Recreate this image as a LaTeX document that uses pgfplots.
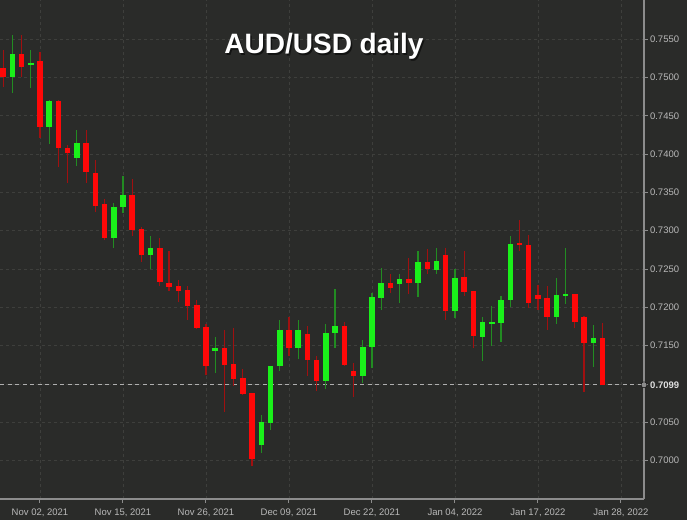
\documentclass[border=0pt]{standalone}
\usepackage{fontspec}
\setmainfont{Liberation Sans}
\usepackage{pgfplots}
\usepackage{pgfplotstable}
\pgfplotsset{compat=1.18}
\definecolor{bgcol}{RGB}{42,43,41}
\definecolor{gridcol}{RGB}{62,63,60}
\definecolor{axiscol}{RGB}{140,140,140}
\definecolor{labcol}{RGB}{185,185,185}
\definecolor{upbody}{RGB}{26,240,26}
\definecolor{upwick}{RGB}{34,140,34}
\definecolor{dnbody}{RGB}{255,8,8}
\definecolor{dnwick}{RGB}{160,16,16}
\definecolor{pricecol}{RGB}{175,175,175}

% x = trading day index (0 = Nov 02, 2021), o h l c
\pgfplotstableread{
x o h l c
-3 0.7500 0.7555 0.7480 0.7531
-1 0.7516 0.7536 0.7486 0.7519
1 0.7435 0.7470 0.7413 0.7469
4 0.7395 0.7431 0.7385 0.7415
8 0.7290 0.7336 0.7277 0.7331
9 0.7331 0.7371 0.7323 0.7347
12 0.7268 0.7293 0.7250 0.7277
19 0.7143 0.7161 0.7115 0.7147
24 0.7020 0.7060 0.7010 0.7050
25 0.7049 0.7124 0.7040 0.7123
26 0.7123 0.7183 0.7117 0.7170
28 0.7147 0.7183 0.7133 0.7171
31 0.7104 0.7178 0.7093 0.7167
32 0.7167 0.7224 0.7147 0.7176
35 0.7110 0.7158 0.7101 0.7149
36 0.7148 0.7219 0.7121 0.7213
37 0.7212 0.7251 0.7197 0.7232
39 0.7230 0.7244 0.7206 0.7237
41 0.7232 0.7273 0.7213 0.7259
43 0.7249 0.7277 0.7244 0.7260
45 0.7196 0.7250 0.7186 0.7239
48 0.7162 0.7188 0.7130 0.7181
49 0.7179 0.7202 0.7150 0.7181
50 0.7180 0.7215 0.7155 0.7210
51 0.7210 0.7293 0.7201 0.7283
56 0.7187 0.7239 0.7178 0.7216
57 0.7215 0.7277 0.7205 0.7217
60 0.7154 0.7177 0.7122 0.7160
}\upcandles

\pgfplotstableread{
x o h l c
-4 0.7513 0.7536 0.7487 0.7500
-2 0.7531 0.7555 0.7500 0.7514
0 0.7521 0.7533 0.7421 0.7435
2 0.7469 0.7470 0.7383 0.7408
3 0.7408 0.7412 0.7362 0.7402
5 0.7415 0.7432 0.7362 0.7376
6 0.7376 0.7393 0.7325 0.7333
7 0.7335 0.7341 0.7288 0.7290
10 0.7346 0.7367 0.7293 0.7301
11 0.7302 0.7305 0.7259 0.7268
13 0.7277 0.7291 0.7228 0.7233
14 0.7232 0.7273 0.7221 0.7227
15 0.7228 0.7236 0.7207 0.7222
16 0.7223 0.7228 0.7184 0.7202
17 0.7203 0.7210 0.7172 0.7173
18 0.7174 0.7178 0.7112 0.7123
20 0.7147 0.7171 0.7063 0.7125
21 0.7126 0.7173 0.7097 0.7107
22 0.7108 0.7120 0.7086 0.7087
23 0.7088 0.7089 0.6993 0.7002
27 0.7170 0.7187 0.7137 0.7147
29 0.7166 0.7176 0.7111 0.7131
30 0.7131 0.7136 0.7091 0.7104
33 0.7176 0.7181 0.7124 0.7125
34 0.7117 0.7127 0.7083 0.7110
38 0.7232 0.7244 0.7219 0.7225
40 0.7237 0.7264 0.7218 0.7232
42 0.7259 0.7276 0.7244 0.7250
44 0.7268 0.7277 0.7184 0.7196
46 0.7239 0.7273 0.7215 0.7220
47 0.7221 0.7221 0.7147 0.7163
52 0.7284 0.7314 0.7274 0.7281
53 0.7282 0.7294 0.7199 0.7206
54 0.7216 0.7229 0.7197 0.7211
55 0.7212 0.7228 0.7170 0.7187
58 0.7217 0.7218 0.7173 0.7181
59 0.7188 0.7189 0.7090 0.7154
61 0.7160 0.7180 0.7099 0.7099
}\dncandles

\begin{document}
\begin{tikzpicture}[x=1pt,y=1pt]
\fill[bgcol] (0,0) rectangle (687,520);
\begin{axis}[
  at={(0pt,21pt)}, anchor=south west,
  width=644pt, height=499pt, scale only axis,
  xmin=-4.337, xmax=65.5,
  ymin=0.6950, ymax=0.7601,
  axis x line*=bottom, axis y line*=right,
  axis line style={draw=axiscol, line width=1.3pt, -},
  tick align=outside, major tick length=3.5pt,
  tick style={draw=axiscol, line width=1pt},
  xtick={0,9,18,27,36,45,54,63},
  xticklabels={{Nov 02, 2021},{Nov 15, 2021},{Nov 26, 2021},{Dec 09, 2021},{Dec 22, 2021},{Jan 04, 2022},{Jan 17, 2022},{Jan 28, 2022}},
  ytick={0.7000,0.7050,0.7100,0.7150,0.7200,0.7250,0.7300,0.7350,0.7400,0.7450,0.7500,0.7550},
  yticklabels={0.7000,0.7050,,0.7150,0.7200,0.7250,0.7300,0.7350,0.7400,0.7450,0.7500,0.7550},
  xticklabel style={font=\fontsize{9.5}{10}\selectfont, text=labcol, yshift=-2.5pt},
  yticklabel style={font=\fontsize{9.5}{10}\selectfont, text=labcol, xshift=-1pt},
  grid=major,
  major grid style={draw=gridcol, dash pattern=on 3pt off 3pt, line width=0.7pt},
  clip=true,
  every axis plot/.append style={mark=none},
]
% current price line
\addplot[draw=pricecol, line width=0.9pt, dash pattern=on 4pt off 3.5pt, forget plot] coordinates {(-4.337,0.7099) (65.5,0.7099)};
% wicks
\addplot[draw=none, mark=none, forget plot,
  error bars/.cd, y dir=both, y explicit, error mark=none,
  error bar style={solid, draw=upwick, line width=1.2pt}]
  table[x=x, y expr={(\thisrow{h}+\thisrow{l})/2}, y error expr={(\thisrow{h}-\thisrow{l})/2}] {\upcandles};
\addplot[draw=none, mark=none, forget plot,
  error bars/.cd, y dir=both, y explicit, error mark=none,
  error bar style={solid, draw=dnwick, line width=1.2pt}]
  table[x=x, y expr={(\thisrow{h}+\thisrow{l})/2}, y error expr={(\thisrow{h}-\thisrow{l})/2}] {\dncandles};
% bodies
\addplot[draw=none, mark=none, forget plot,
  error bars/.cd, y dir=both, y explicit, error mark=none,
  error bar style={solid, draw=upbody, line width=5.5pt}]
  table[x=x, y expr={(\thisrow{o}+\thisrow{c})/2}, y error expr={abs(\thisrow{c}-\thisrow{o})/2}] {\upcandles};
\addplot[draw=none, mark=none, forget plot,
  error bars/.cd, y dir=both, y explicit, error mark=none,
  error bar style={solid, draw=dnbody, line width=5.5pt}]
  table[x=x, y expr={(\thisrow{o}+\thisrow{c})/2}, y error expr={abs(\thisrow{c}-\thisrow{o})/2}] {\dncandles};
\end{axis}
\begin{axis}[
  at={(0pt,21pt)}, anchor=south west,
  width=644pt, height=499pt, scale only axis,
  xmin=-4.337, xmax=65.5, ymin=0.6950, ymax=0.7601,
  hide axis, clip=false,
]
\addplot[only marks, mark=*, mark size=3pt, mark options={fill=axiscol, draw=none}] coordinates {(65.5,0.7099)};
\node[anchor=west, text=white!88!black, font=\fontsize{9.5}{10}\selectfont\bfseries, inner sep=0pt] at (axis cs:65.5,0.7099) {\hspace{6pt}0.7099};
\end{axis}
\node[anchor=base, font=\fontsize{28}{30}\selectfont\bfseries, text=black, opacity=0.55] at (325.5,464.5) {AUD/USD daily};
\node[anchor=base, font=\fontsize{28}{30}\selectfont\bfseries, text=white] at (324,466) {AUD/USD daily};
\pgfresetboundingbox
\path[use as bounding box] (0,0) rectangle (687,520);
\end{tikzpicture}
\end{document}
